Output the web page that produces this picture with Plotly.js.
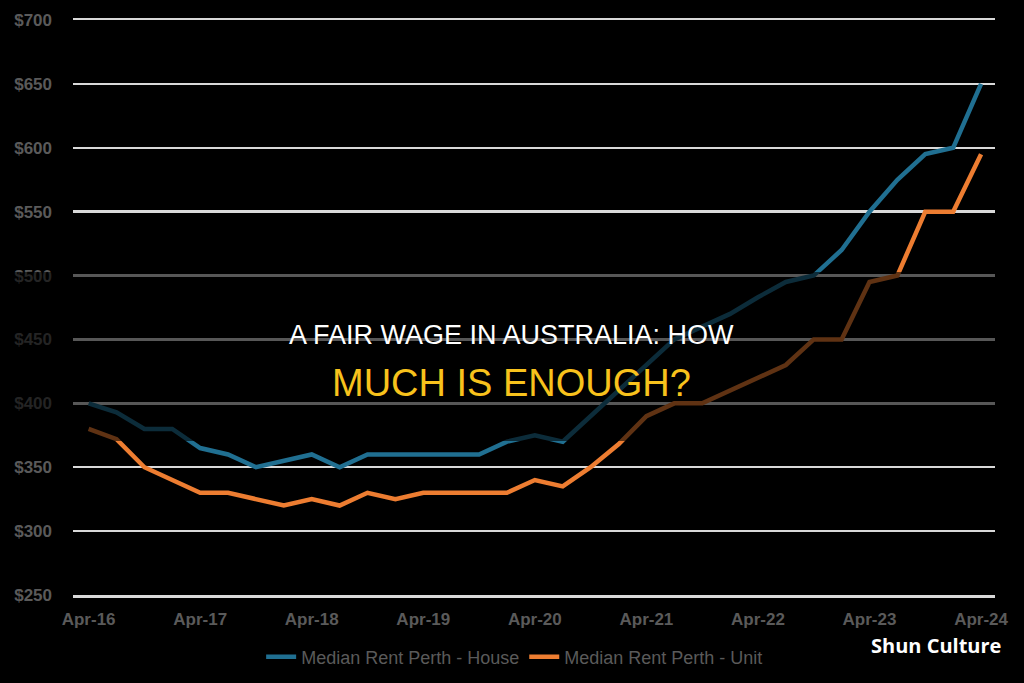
<!DOCTYPE html>
<html>
<head>
<meta charset="utf-8">
<script src="https://cdn.plot.ly/plotly-3.0.1.min.js"></script>
<style>
  html, body { margin: 0; padding: 0; background: #000; }
  #chart { width: 1024px; height: 683px; }
</style>
</head>
<body>
<div id="chart"></div>
<script>
// Quarterly periods (Apr-16 .. Apr-24)
const quarters = [
  "Apr-16","Jul-16","Oct-16","Jan-17",
  "Apr-17","Jul-17","Oct-17","Jan-18",
  "Apr-18","Jul-18","Oct-18","Jan-19",
  "Apr-19","Jul-19","Oct-19","Jan-20",
  "Apr-20","Jul-20","Oct-20","Jan-21",
  "Apr-21","Jul-21","Oct-21","Jan-22",
  "Apr-22","Jul-22","Oct-22","Jan-23",
  "Apr-23","Jul-23","Oct-23","Jan-24",
  "Apr-24"
];
const tickLabels = ["Apr-16","Apr-17","Apr-18","Apr-19","Apr-20","Apr-21","Apr-22","Apr-23","Apr-24"];
const houseRent = [
  400, 393, 380, 380,
  365, 360, 350, 355,
  360, 350, 360, 360,
  360, 360, 360, 370,
  375, 370, 390, 410,
  430, 450, 460, 470,
  483, 495, 500, 520,
  550, 575, 595, 600,
  650
];
const unitRent = [
  380, 372, 350, 340,
  330, 330, 325, 320,
  325, 320, 330, 325,
  330, 330, 330, 330,
  340, 335, 350, 368,
  390, 400, 400, 410,
  420, 430, 450, 450,
  495, 500, 550, 550,
  595
];
const yTicks = [250, 300, 350, 400, 450, 500, 550, 600, 650, 700];
const seriesNames = ["Median Rent Perth - House", "Median Rent Perth - Unit"];

const traces = [
  {
    x: quarters, y: houseRent, name: seriesNames[0], type: "scatter", mode: "lines",
    line: { color: "#206f91", width: 4.5 }
  },
  {
    x: quarters, y: unitRent, name: seriesNames[1], type: "scatter", mode: "lines",
    line: { color: "#ed7d31", width: 4.5 }
  }
];

const tickFont = { size: 17, color: "#5a5a5a", family: "Liberation Sans, Arial, sans-serif", weight: "bold" };

const layout = {
  width: 1024, height: 683,
  paper_bgcolor: "#000", plot_bgcolor: "#000",
  margin: { l: 73, r: 29, t: 20, b: 88, autoexpand: false },
  font: { family: "Liberation Sans, Arial, sans-serif", color: "#5a5a5a", size: 14 },
  showlegend: true,
  legend: {
    orientation: "h", x: 0.479, xanchor: "center", y: -0.108, yanchor: "middle",
    font: { size: 18, color: "#5a5a5a", family: "Liberation Sans, Arial, sans-serif" },
    bgcolor: "rgba(0,0,0,0)", itemwidth: 30, tracegroupgap: 0
  },
  xaxis: {
    type: "category",
    categoryorder: "array", categoryarray: quarters,
    range: [-0.56, 32.5],
    tickmode: "array", tickvals: tickLabels, ticktext: tickLabels,
    showgrid: false, zeroline: false,
    showline: true, mirror: true, linecolor: "#d9d9d9", linewidth: 2.5,
    ticks: "", ticklabelstandoff: 7,
    tickfont: tickFont,
    fixedrange: true
  },
  yaxis: {
    range: [250, 700],
    tickmode: "array", tickvals: yTicks, ticktext: yTicks.map(v => "$" + v),
    showgrid: true, gridcolor: "#d9d9d9", gridwidth: 2.5,
    zeroline: false, showline: false, ticks: "",
    ticklabelstandoff: 20,
    tickfont: tickFont,
    fixedrange: true
  },
  shapes: [
    {
      type: "rect", xref: "paper", yref: "paper", layer: "above",
      x0: -0.1, x1: 1.1, y0: 0.268, y1: 0.5617,
      fillcolor: "rgba(0,0,0,0.6)", line: { width: 0 }
    }
  ],
  annotations: [
    {
      text: "A FAIR WAGE IN AUSTRALIA: HOW", xref: "paper", yref: "paper",
      x: 0.4761, y: 0.452, xanchor: "center", yanchor: "middle", showarrow: false,
      font: { family: "Liberation Sans, Arial, sans-serif", size: 27, color: "#ffffff" }
    },
    {
      text: "MUCH IS ENOUGH?", xref: "paper", yref: "paper",
      x: 0.4761, y: 0.3687, xanchor: "center", yanchor: "middle", showarrow: false,
      font: { family: "Liberation Sans, Arial, sans-serif", size: 38, color: "#f8c21c" }
    },
    {
      text: "<b>Shun Culture</b>", xref: "paper", yref: "paper",
      x: 1.009, y: -0.0875, xanchor: "right", yanchor: "middle", showarrow: false,
      font: { family: "Open Sans, sans-serif", size: 20, color: "#ffffff" }
    }
  ]
};

Plotly.newPlot("chart", traces, layout, { displayModeBar: false, staticPlot: true });
</script>
</body>
</html>
